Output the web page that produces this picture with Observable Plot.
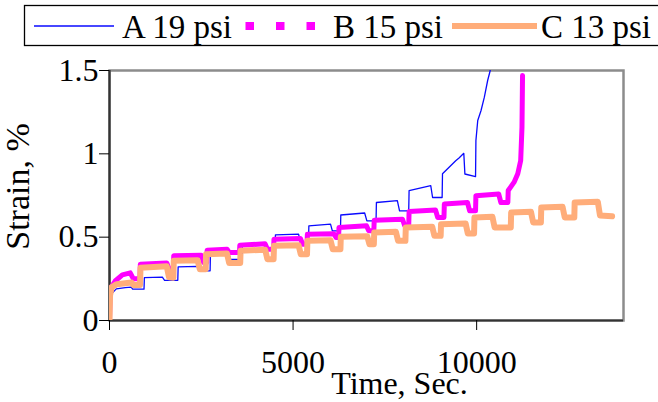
<!DOCTYPE html>
<html><head><meta charset="utf-8">
<script src="https://cdn.jsdelivr.net/npm/d3@7"></script>
<script src="https://cdn.jsdelivr.net/npm/@observablehq/plot@0.6"></script>
<style>
html,body{margin:0;padding:0;background:#fff;}
#wrap{position:relative;width:658px;height:402px;overflow:hidden;background:#fff;}
#wrap svg{position:absolute;left:0;top:0;}
</style></head><body><div id="wrap"></div>
<script>
// ---- data ----
const seriesNames = ["A 19 psi", "B 15 psi", "C 13 psi"];
const seriesColors = ["#0a0aff", "#ff00ff", "#ffad7a"];

const timeA = [0, 20, 75, 185, 430, 590, 630, 940, 950, 1440, 1500, 1860, 1870, 2390, 2450, 2740, 2750, 3240, 3300, 3610, 3620, 4240, 4300, 4510, 4520, 5150, 5210, 5420, 5430, 6020, 6070, 6290, 6300, 6950, 7010, 7260, 7270, 7840, 7900, 8150, 8160, 8750, 8800, 9060, 9070, 9430, 9520, 9650, 9680, 9970, 9980, 10030, 10120, 10210, 10300, 10370, 10420];
const strainA = [0, 0.117, 0.165, 0.19, 0.197, 0.2, 0.188, 0.188, 0.257, 0.26, 0.241, 0.241, 0.322, 0.325, 0.298, 0.298, 0.406, 0.41, 0.367, 0.367, 0.455, 0.46, 0.432, 0.432, 0.514, 0.518, 0.46, 0.46, 0.568, 0.578, 0.538, 0.538, 0.633, 0.645, 0.598, 0.598, 0.708, 0.719, 0.658, 0.658, 0.779, 0.809, 0.738, 0.738, 0.881, 0.959, 0.975, 1.003, 0.879, 0.863, 1.079, 1.2, 1.26, 1.34, 1.44, 1.5, 1.6];

const timeB = [0, 15, 50, 155, 350, 565, 650, 830, 840, 1560, 1620, 1740, 1750, 2500, 2560, 2650, 2660, 3200, 3260, 3540, 3550, 4240, 4300, 4470, 4480, 5200, 5260, 5380, 5390, 6110, 6170, 6240, 6250, 7000, 7060, 7200, 7210, 7980, 8040, 8150, 8160, 8880, 8940, 9110, 9120, 9750, 9810, 9970, 9980, 10600, 10660, 10850, 10860, 11020, 11120, 11200, 11235, 11250];
const strainB = [0, 0.15, 0.2, 0.237, 0.274, 0.286, 0.25, 0.25, 0.338, 0.345, 0.31, 0.31, 0.388, 0.392, 0.348, 0.348, 0.422, 0.428, 0.408, 0.408, 0.452, 0.46, 0.428, 0.428, 0.488, 0.492, 0.458, 0.458, 0.518, 0.52, 0.498, 0.498, 0.558, 0.568, 0.538, 0.538, 0.602, 0.608, 0.568, 0.568, 0.654, 0.663, 0.618, 0.618, 0.699, 0.708, 0.658, 0.658, 0.749, 0.759, 0.708, 0.708, 0.78, 0.83, 0.88, 0.96, 1.16, 1.47];

const timeC = [0, 15, 60, 200, 600, 650, 830, 845, 1560, 1620, 1740, 1750, 2400, 2460, 2620, 2630, 3200, 3260, 3560, 3570, 4240, 4300, 4470, 4480, 5150, 5210, 5380, 5390, 6020, 6080, 6290, 6300, 7020, 7080, 7200, 7210, 7800, 7860, 8060, 8070, 8790, 8850, 9020, 9030, 9700, 9760, 9930, 9940, 10430, 10490, 10930, 10940, 11480, 11540, 11750, 11760, 12340, 12400, 12660, 12670, 13300, 13360, 13690];
const strainC = [0, 0.15, 0.2, 0.218, 0.228, 0.213, 0.213, 0.317, 0.325, 0.26, 0.257, 0.358, 0.362, 0.308, 0.308, 0.398, 0.402, 0.345, 0.345, 0.418, 0.425, 0.368, 0.368, 0.448, 0.452, 0.398, 0.398, 0.478, 0.482, 0.428, 0.428, 0.502, 0.506, 0.458, 0.458, 0.528, 0.532, 0.478, 0.478, 0.558, 0.562, 0.508, 0.508, 0.578, 0.582, 0.522, 0.522, 0.618, 0.622, 0.558, 0.558, 0.648, 0.652, 0.588, 0.588, 0.678, 0.682, 0.618, 0.618, 0.708, 0.712, 0.63, 0.625];

const xTicks = [0, 5000, 10000];
const yTicks = [0, 0.5, 1, 1.5];
const yTickLabels = ["0", "0.5", "1", "1.5"];
const xTitle = "Time, Sec.";
const yTitle = "Strain, %";

// ---- build tables ----
const toRows = (ts, ss) => ts.map((t, i) => ({t, s: ss[i]}));
const rowsA = toRows(timeA, strainA);
const rowsB = toRows(timeB, strainB);
const rowsC = toRows(timeC, strainC);

const font = "'Liberation Serif','Times New Roman',serif";
const FS = 32;

const chart = Plot.plot({
  width: 658, height: 402,
  marginTop: 70, marginBottom: 82, marginLeft: 109, marginRight: 35,
  style: {fontFamily: font, fontSize: FS + "px", color: "#000", background: "transparent"},
  x: {domain: [0, 14000]},
  y: {domain: [0, 1.5]},
  marks: [
    Plot.frame({stroke: "#8c8c8c", strokeWidth: 2.5}),
    Plot.ruleX([0], {stroke: "#333", strokeWidth: 2.2}),
    Plot.ruleY([0], {stroke: "#333", strokeWidth: 2.2}),
    Plot.line(rowsA, {x: "t", y: "s", stroke: seriesColors[0], strokeWidth: 1.3, clip: true}),
    Plot.line(rowsB, {x: "t", y: "s", stroke: seriesColors[1], strokeWidth: 5, clip: true}),
    Plot.line(rowsC, {x: "t", y: "s", stroke: seriesColors[2], strokeWidth: 6, clip: true}),
    Plot.axisY({ticks: yTicks, tickFormat: d => yTickLabels[yTicks.indexOf(d)], tickSize: 10, tickPadding: 1, label: null, fontSize: FS, stroke: "#000"}),
    Plot.axisX({ticks: xTicks, tickFormat: d => String(d), tickSize: 10, tickPadding: 20, label: null, fontSize: FS, stroke: "#000"}),
    Plot.text([xTitle], {text: d => d, frameAnchor: "bottom", lineAnchor: "middle", textAnchor: "middle", dx: 33, dy: 63, fontSize: FS, fill: "#000"}),
    Plot.text([yTitle], {text: d => d, frameAnchor: "left", lineAnchor: "middle", textAnchor: "middle", dx: -91, dy: -9, rotate: -90, fontSize: FS + 2, fill: "#000"})
  ]
});
document.getElementById("wrap").appendChild(chart);

// ---- legend ----
const legLine = [[34, 114], [245.5, 316], [452, 537]];
const legText = [122, 333, 541];
const legWidths = [1.3, 8, 6];
const leg = d3.select("#wrap").append("svg").attr("width", 658).attr("height", 50);
leg.append("rect").attr("x", 24.5).attr("y", 5.5).attr("width", 640).attr("height", 40)
  .attr("fill", "#fff").attr("stroke", "#000").attr("stroke-width", 1.3);
seriesNames.forEach((name, i) => {
  leg.append("line").attr("x1", legLine[i][0]).attr("x2", legLine[i][1]).attr("y1", 26).attr("y2", 26)
    .attr("stroke", seriesColors[i]).attr("stroke-width", legWidths[i])
    .attr("stroke-dasharray", i === 1 ? "8.5,22" : null);
  leg.append("text").attr("x", legText[i]).attr("y", 37.5).text(name)
    .attr("font-family", font).attr("font-size", 33).attr("fill", "#000");
});
</script></body></html>
